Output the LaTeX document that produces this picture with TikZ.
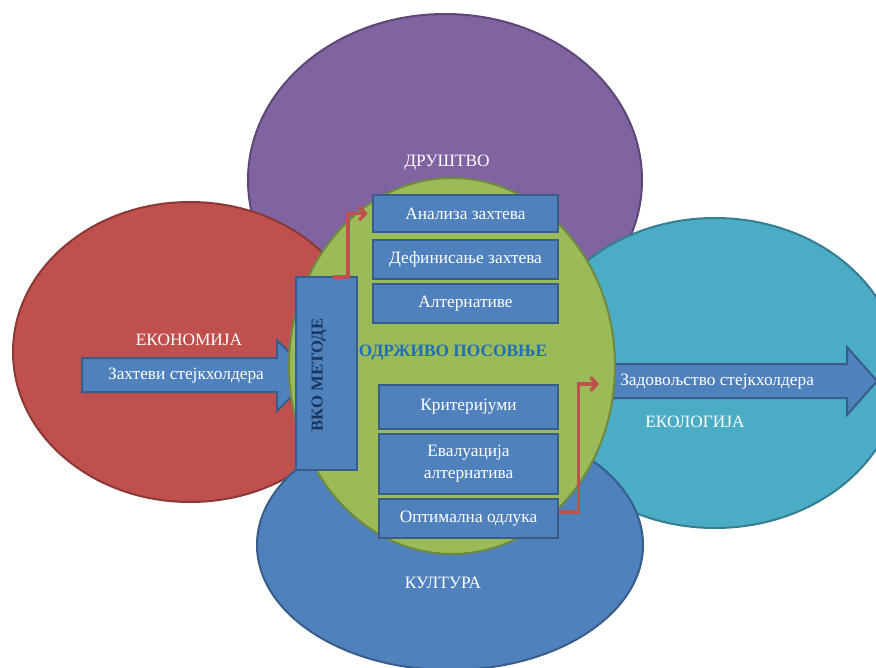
\documentclass[tikz,border=0pt]{standalone}
\usepackage{fontspec}
\setmainfont{Liberation Serif}
\usetikzlibrary{arrows.meta}
\definecolor{socFill}{HTML}{8064A2}
\definecolor{socLine}{HTML}{5C4776}
\definecolor{ecoFill}{HTML}{C0504D}
\definecolor{ecoLine}{HTML}{8C3836}
\definecolor{envFill}{HTML}{4BACC6}
\definecolor{envLine}{HTML}{357D91}
\definecolor{culFill}{HTML}{4F81BD}
\definecolor{culLine}{HTML}{385D8A}
\definecolor{susFill}{HTML}{9BBB59}
\definecolor{susLine}{HTML}{71893F}
\definecolor{boxFill}{HTML}{4F81BD}
\definecolor{boxLine}{HTML}{385D8A}
\definecolor{linkRed}{HTML}{C0504D}
\definecolor{navyText}{HTML}{17365D}
\definecolor{titleBlue}{HTML}{1F6FB8}
\begin{document}
\begin{tikzpicture}[x=0.75pt,y=-0.75pt,
  blob/.style={line width=1.5pt},
  stepbox/.style={draw=boxLine,fill=boxFill,line width=2pt,text=white,
    font=\fontsize{13}{16.5}\selectfont,inner sep=0pt,align=center},
  wide/.style={minimum width=138.75pt},
  narrow/.style={minimum width=134.25pt},
  fatarrow/.style={draw=boxLine,fill=boxFill,line width=1.5pt,line join=miter},
  lbl/.style={text=white,font=\fontsize{13}{15}\selectfont,inner sep=0pt},
  link/.style={draw=linkRed,line width=2.6pt,
    -{Straight Barb[length=4.5pt,width=10pt]}}]
\useasboundingbox (0,0) rectangle (876,668);
\clip (0,0) rectangle (876,668);

% the four surrounding domains
\draw[blob,draw=socLine,fill=socFill] (445,180) ellipse [x radius=197,y radius=166];
\draw[blob,draw=ecoLine,fill=ecoFill] (190,352) ellipse [x radius=177,y radius=150];
\draw[blob,draw=envLine,fill=envFill] (715,373) ellipse [x radius=185,y radius=155];
\draw[blob,draw=culLine,fill=culFill] (450,545) ellipse [x radius=193,y radius=125];

% input and output block arrows
\path[fatarrow] (82,358) -- (277,358) -- (277,340) -- (312,375.5) -- (277,411)
  -- (277,392) -- (82,392) -- cycle;
\path[fatarrow] (600,364) -- (847,364) -- (847,347) -- (877,381) -- (847,415)
  -- (847,398) -- (600,398) -- cycle;

% the central domain
\draw[blob,draw=susLine,fill=susFill] (452,366) ellipse [x radius=163,y radius=188];

% domain labels
\node[lbl] (soc) at (447,163) {ДРУШТВО};
\node[lbl] (eco) at (189,340) {ЕКОНОМИЈА};
\node[lbl] (cul) at (443,583) {КУЛТУРА};
\node[lbl] (env) at (695,422) {ЕКОЛОГИЈА};
\node[lbl] (req) at (186,376) {Захтеви стејкхолдера};
\node[lbl,anchor=west] (sat) at (620,382) {Задовољство стејкхолдера};

% method column
\node[stepbox,minimum width=45.75pt,minimum height=144.75pt] (vko) at (326.5,373.5) {};
\node[rotate=90,text=navyText,font=\bfseries\fontsize{12.5}{15}\selectfont,inner sep=0pt]
  (vkot) at (319,375) {ВКО МЕТОДЕ};

% process steps
\node[stepbox,wide,minimum height=27.75pt] (ana) at (465.5,213.5) {Анализа захтева};
\node[stepbox,wide,minimum height=29.25pt] (def) at (465.5,259.5) {Дефинисање захтева};
\node[stepbox,wide,minimum height=29.25pt] (alt) at (465.5,303.5) {Алтернативе};
\node[stepbox,narrow,minimum height=33pt] (cri) at (468.5,407) {Критеријуми};
\node[stepbox,narrow,minimum height=45pt] (eva) at (468.5,464) {Евалуација\\алтернатива};
\node[stepbox,narrow,minimum height=29.25pt] (opt) at (468.5,518.5) {Оптимална одлука};

\node[text=titleBlue,font=\bfseries\fontsize{13}{15}\selectfont,inner sep=0pt]
  (title) at (453,353) {ОДРЖИВО ПОСОВЊЕ};

% red elbow links
\coordinate (inStart) at (333,277);
\coordinate (outEnd) at (599,384);
\draw[link] (inStart) -- ++(15,0) |- ([xshift=-3pt]ana.west);
\draw[link] ([yshift=4.9pt]opt.east) -- ++(19,0) |- (outEnd);
\end{tikzpicture}
\end{document}
